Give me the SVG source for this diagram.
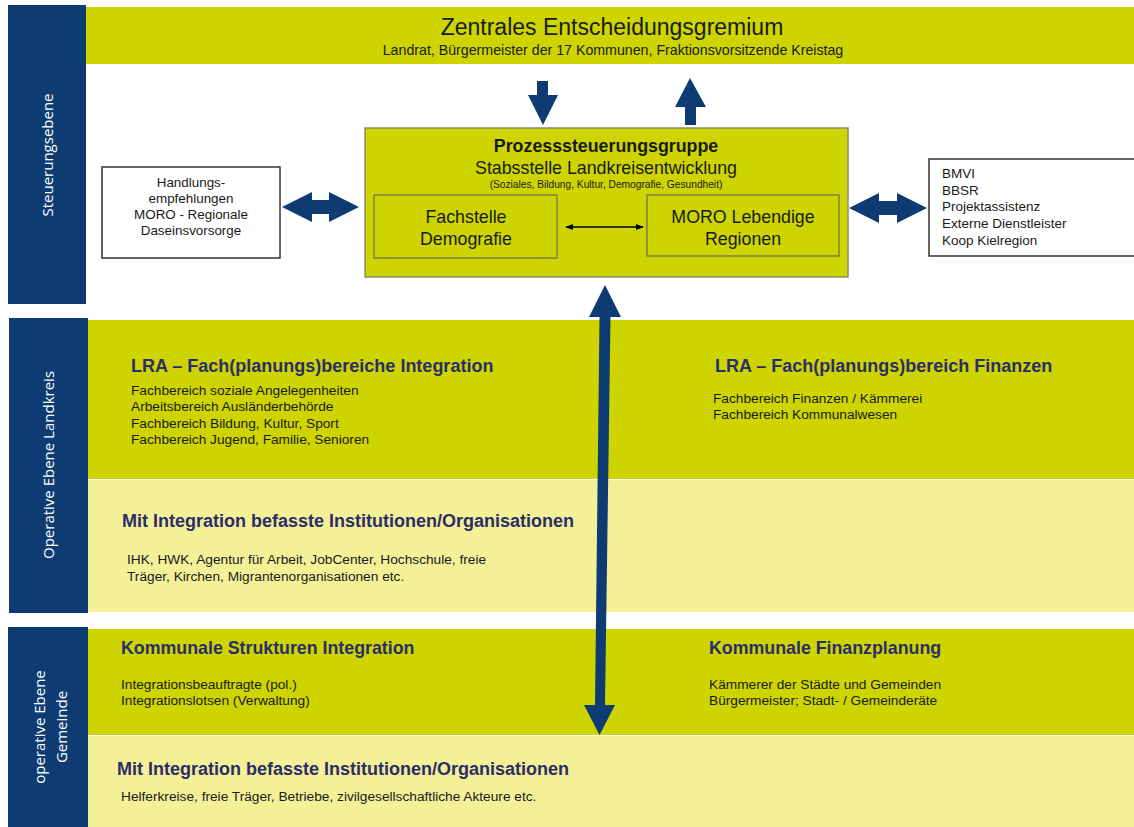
<svg xmlns="http://www.w3.org/2000/svg" width="1134" height="827" viewBox="0 0 1134 827">
<defs>
<style>
.bar{fill:#0e3b72}
.green{fill:#cdd400}
.light{fill:#f4f097}
.side{font-family:"Open Sans","Noto Sans",sans-serif;font-size:15px;fill:#ffffff}
.t{font-family:"Liberation Sans",Arial,sans-serif;fill:#1a1a1a}
.h{font-family:"Liberation Sans",Arial,sans-serif;font-weight:bold;fill:#2b2d68}
.item{font-family:"Liberation Sans",Arial,sans-serif;font-size:13.7px;fill:#1a1a1a}
.box{fill:#ffffff;stroke:#333333;stroke-width:1.5}
.arrow{fill:#0e3b72}
</style>
<marker id="ah" viewBox="0 0 10 10" refX="9" refY="5" markerWidth="8" markerHeight="8" orient="auto-start-reverse" markerUnits="userSpaceOnUse">
<path d="M0,1 L10,5 L0,9 z" fill="#000000"/>
</marker>
</defs>
<rect width="1134" height="827" fill="#ffffff"/>

<g id="steuerungsebene">
<rect class="bar" x="8" y="5" width="78" height="299"/>
<text class="side" transform="translate(53,155) rotate(-90)" text-anchor="middle">Steuerungsebene</text>
</g>

<g id="zentrales">
<rect class="green" x="86" y="7" width="1048" height="57"/>
<text class="t" x="612" y="35" text-anchor="middle" font-size="23">Zentrales Entscheidungsgremium</text>
<text class="t" x="613" y="55" text-anchor="middle" font-size="14.2">Landrat, Bürgermeister der 17 Kommunen, Fraktionsvorsitzende Kreistag</text>
</g>

<g id="prozess">
<rect x="365" y="128" width="483" height="149" fill="#cdd400" stroke="#8c8c70" stroke-width="1.5"/>
<text class="t" x="606" y="152" text-anchor="middle" font-size="17.8" font-weight="bold">Prozesssteuerungsgruppe</text>
<text class="t" x="606" y="174" text-anchor="middle" font-size="17.8">Stabsstelle Landkreisentwicklung</text>
<text class="t" x="606" y="188" text-anchor="middle" font-size="10.2">(Soziales, Bildung, Kultur, Demografie, Gesundheit)</text>
</g>

<g id="fachstelle">
<rect x="374" y="195" width="183" height="63" fill="none" stroke="#6e6e50" stroke-width="1.2"/>
<text class="t" x="466" y="223" text-anchor="middle" font-size="17.8">Fachstelle</text>
<text class="t" x="466" y="245" text-anchor="middle" font-size="17.8">Demografie</text>
</g>

<g id="moro">
<rect x="647" y="195" width="192" height="61" fill="none" stroke="#6e6e50" stroke-width="1.2"/>
<text class="t" x="743" y="223" text-anchor="middle" font-size="17.8">MORO Lebendige</text>
<text class="t" x="743" y="245" text-anchor="middle" font-size="17.8">Regionen</text>
</g>

<g id="handlung">
<rect class="box" x="102" y="167" width="178" height="91"/>
<text class="t" x="191" y="187" text-anchor="middle" font-size="13.4">Handlungs-</text>
<text class="t" x="191" y="203" text-anchor="middle" font-size="13.4">empfehlungen</text>
<text class="t" x="191" y="219" text-anchor="middle" font-size="13.4">MORO - Regionale</text>
<text class="t" x="191" y="235" text-anchor="middle" font-size="13.4">Daseinsvorsorge</text>
</g>

<g id="extern">
<rect class="box" x="929" y="159" width="210" height="97"/>
<text class="t" x="942" y="178" font-size="13.5">BMVI</text>
<text class="t" x="942" y="195" font-size="13.5">BBSR</text>
<text class="t" x="942" y="211" font-size="13.5">Projektassistenz</text>
<text class="t" x="942" y="228" font-size="13.5">Externe Dienstleister</text>
<text class="t" x="942" y="245" font-size="13.5">Koop Kielregion</text>
</g>

<g id="landkreis">
<rect class="bar" x="9" y="318" width="79" height="295"/>
<text class="side" transform="translate(54,465) rotate(-90)" text-anchor="middle">Operative Ebene Landkreis</text>
</g>

<g id="lra-integration">
<rect class="green" x="88" y="320" width="1046" height="159"/>
<text class="h" x="131" y="372" font-size="18">LRA – Fach(planungs)bereiche Integration</text>
<text class="item" x="131" y="395">Fachbereich soziale Angelegenheiten</text>
<text class="item" x="131" y="411">Arbeitsbereich Ausländerbehörde</text>
<text class="item" x="131" y="428">Fachbereich Bildung, Kultur, Sport</text>
<text class="item" x="131" y="444">Fachbereich Jugend, Familie, Senioren</text>
</g>

<g id="lra-finanzen">
<text class="h" x="715" y="372" font-size="18">LRA – Fach(planungs)bereich Finanzen</text>
<text class="item" x="713" y="403">Fachbereich Finanzen / Kämmerei</text>
<text class="item" x="713" y="419">Fachbereich Kommunalwesen</text>
</g>

<g id="institutionen-landkreis">
<rect class="light" x="88" y="480" width="1046" height="132"/>
<text class="h" x="122" y="527" font-size="18">Mit Integration befasste Institutionen/Organisationen</text>
<text class="item" x="127" y="564">IHK, HWK, Agentur für Arbeit, JobCenter, Hochschule, freie</text>
<text class="item" x="127" y="581">Träger, Kirchen, Migrantenorganisationen etc.</text>
</g>

<g id="gemeinde">
<rect class="bar" x="8" y="627" width="80" height="200"/>
<text class="side" transform="translate(45,727) rotate(-90)" text-anchor="middle">operative Ebene</text>
<text class="side" transform="translate(67,727) rotate(-90)" text-anchor="middle">Gemeinde</text>
</g>

<g id="kommunal-integration">
<rect class="green" x="88" y="629" width="1046" height="106"/>
<text class="h" x="121" y="654" font-size="17.8">Kommunale Strukturen Integration</text>
<text class="item" x="121" y="689" font-size="13">Integrationsbeauftragte (pol.)</text>
<text class="item" x="121" y="705" font-size="13">Integrationslotsen (Verwaltung)</text>
</g>

<g id="kommunal-finanzen">
<text class="h" x="709" y="654" font-size="17.8">Kommunale Finanzplanung</text>
<text class="item" x="709" y="689">Kämmerer der Städte und Gemeinden</text>
<text class="item" x="709" y="705">Bürgermeister; Stadt- / Gemeinderäte</text>
</g>

<g id="institutionen-gemeinde">
<rect class="light" x="88" y="736" width="1046" height="91"/>
<text class="h" x="117" y="775" font-size="18">Mit Integration befasste Institutionen/Organisationen</text>
<text class="item" x="121" y="801">Helferkreise, freie Träger, Betriebe, zivilgesellschaftliche Akteure etc.</text>
</g>

<g id="connectors">
<polygon class="arrow" points="537,81 548,81 548,95 558,95 543,125 528,95 537,95"/>
<polygon class="arrow" points="690,78 706,107 696,107 696,125 685,125 685,107 675,107"/>
<polygon class="arrow" points="282,207 312,192 312,200 329,200 329,192 359,207 329,222 329,214 312,214 312,222"/>
<polygon class="arrow" points="849,208 879,193 879,201 897,201 897,193 927,208 897,223 897,215 879,215 879,223"/>
<polygon class="arrow" points="605,285 621,317 610.5,317 605,705 615,705 599.5,735 584,705 595,705 599.5,317 589,317"/>
<line x1="566" y1="227" x2="643" y2="227" stroke="#000000" stroke-width="1.5" marker-start="url(#ah)" marker-end="url(#ah)"/>
</g>
</svg>
